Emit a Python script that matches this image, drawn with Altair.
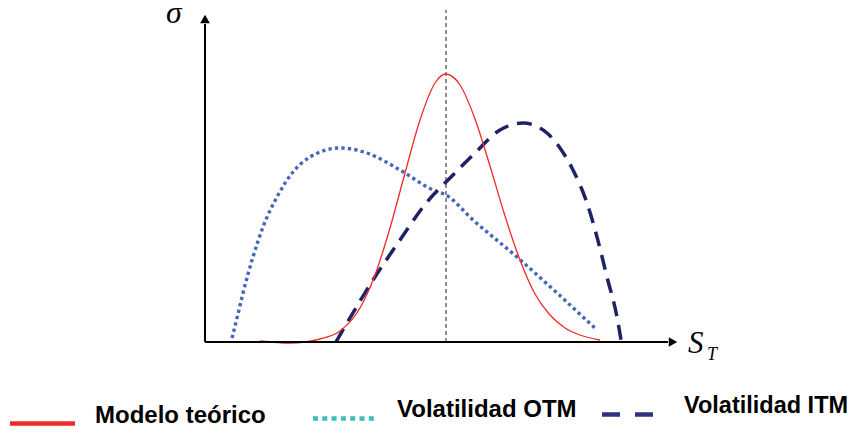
import altair as alt
import pandas as pd

# Curves: S_T position (arbitrary units, 0 = origin) and sigma value
red_x = [55, 85, 115, 135, 155, 170, 185, 200, 215, 230, 241, 255, 270, 285, 300, 315, 330, 345, 360, 375, 395]
red_y = [1, -1, 3, 11, 34, 67, 114, 169, 222, 259, 268, 257, 223, 176, 126, 82, 48, 27, 14, 7, 2]

otm_x = [27, 33, 38, 48, 58, 72, 88, 105, 135, 162, 195, 228, 241, 268, 312, 352, 392]
otm_y = [4, 28, 49, 85, 115, 145, 170, 185, 194, 189, 172, 152, 147, 122, 85, 49, 12]

itm_x = [131, 142, 168, 195, 222, 248, 268, 295, 318, 342, 355, 368, 382, 392, 402, 412, 417]
itm_y = [0, 19, 62, 102, 140, 167, 187, 212, 219, 209, 194, 172, 139, 105, 65, 25, -4]

strike = [241]
axis_len_x = [463]
axis_len_y = [318]

legend_labels = ["Modelo teórico", "Volatilidad OTM", "Volatilidad ITM"]

RED = "#EE2A2A"
BLUE = "#4466BB"
NAVY = "#1F2366"
TEAL = "#3DBDC0"
NAVY_L = "#2E3080"

xs = alt.Scale(domain=[-197, 646], nice=False, zero=False)
ys = alt.Scale(domain=[-77, 334], nice=False, zero=False)


def curve(xv, yv, color, width, dash=None):
    df = pd.DataFrame({"s": xv, "v": yv, "o": list(range(len(xv)))})
    kw = dict(color=color, strokeWidth=width, interpolate="monotone", strokeCap="butt")
    if dash is not None:
        kw["strokeDash"] = dash
    return alt.Chart(df).mark_line(**kw).encode(
        x=alt.X("s:Q", scale=xs, axis=None),
        y=alt.Y("v:Q", scale=ys, axis=None),
        order="o:O",
    )


axes_df = pd.DataFrame({"x0": [0], "y0": [0], "x1": axis_len_x, "y1": axis_len_y})
yaxis = alt.Chart(axes_df).mark_rule(color="black", strokeWidth=2).encode(
    x=alt.X("x0:Q", scale=xs, axis=None), y=alt.Y("y0:Q", scale=ys, axis=None), y2="y1:Q")
xaxis = alt.Chart(axes_df).mark_rule(color="black", strokeWidth=2).encode(
    x=alt.X("x0:Q", scale=xs, axis=None), x2="x1:Q", y=alt.Y("y0:Q", scale=ys, axis=None))

head_up = alt.Chart(pd.DataFrame({"x": [0], "y": [323]})).mark_point(
    shape="triangle-up", filled=True, size=95, color="black", opacity=1).encode(
    x=alt.X("x:Q", scale=xs, axis=None), y=alt.Y("y:Q", scale=ys, axis=None))
head_right = alt.Chart(pd.DataFrame({"x": [468], "y": [0]})).mark_point(
    shape="triangle-right", filled=True, size=95, color="black", opacity=1).encode(
    x=alt.X("x:Q", scale=xs, axis=None), y=alt.Y("y:Q", scale=ys, axis=None))

strike_df = pd.DataFrame({"x": strike, "y0": [0], "y1": [332]})
strike_line = alt.Chart(strike_df).mark_rule(color="#444444", strokeWidth=1.2, strokeDash=[4, 3]).encode(
    x=alt.X("x:Q", scale=xs, axis=None), y=alt.Y("y0:Q", scale=ys, axis=None), y2="y1:Q")


def label(t, x, y, font, size, style="normal", weight="normal", color="black"):
    return alt.Chart(pd.DataFrame({"t": [t]})).mark_text(
        align="left", baseline="alphabetic", font=font, fontSize=size,
        fontStyle=style, fontWeight=weight, color=color).encode(
        text="t:N", x=alt.value(x), y=alt.value(y))


sigma = label("σ", 158, 15, "Liberation Serif", 32, style="italic")
s_lab = label("S", 680, 345, "Liberation Serif", 31, style="italic")
t_lab = label("T", 699, 352, "Liberation Serif", 18, style="italic")


def leg_line(x0, x1, y, color, width, dash=None):
    kw = dict(color=color, strokeWidth=width, strokeCap="butt")
    if dash is not None:
        kw["strokeDash"] = dash
    return alt.Chart(pd.DataFrame({"a": [0]})).mark_rule(**kw).encode(
        x=alt.value(x0), x2=alt.value(x1), y=alt.value(y))


leg = [
    leg_line(2, 67, 415.5, RED, 4.5),
    label(legend_labels[0], 87, 415, "Liberation Sans", 24, weight="bold"),
    leg_line(305, 367, 410.5, TEAL, 4.5, [5, 4.3]),
    label(legend_labels[1], 389, 409, "Liberation Sans", 24, weight="bold"),
    leg_line(594, 645, 406.5, NAVY_L, 4.5, [18, 15]),
    label(legend_labels[2], 676, 405, "Liberation Sans", 23.5, weight="bold"),
]

layers = [
    strike_line,
    curve(otm_x, otm_y, BLUE, 3.4, [3.3, 3.2]),
    curve(itm_x, itm_y, NAVY, 3.5, [15, 9]),
    curve(red_x, red_y, RED, 1.3),
    yaxis, xaxis, head_up, head_right,
    sigma, s_lab, t_lab,
] + leg

chart = alt.layer(*layers).properties(
    width=843, height=411,
    padding={"left": 0, "top": 0, "right": 0, "bottom": 8},
    autosize=alt.AutoSizeParams(type="none"),
    background="white",
).configure_view(stroke=None)

chart.save("out.html", embed_options={"renderer": "svg", "actions": False})
